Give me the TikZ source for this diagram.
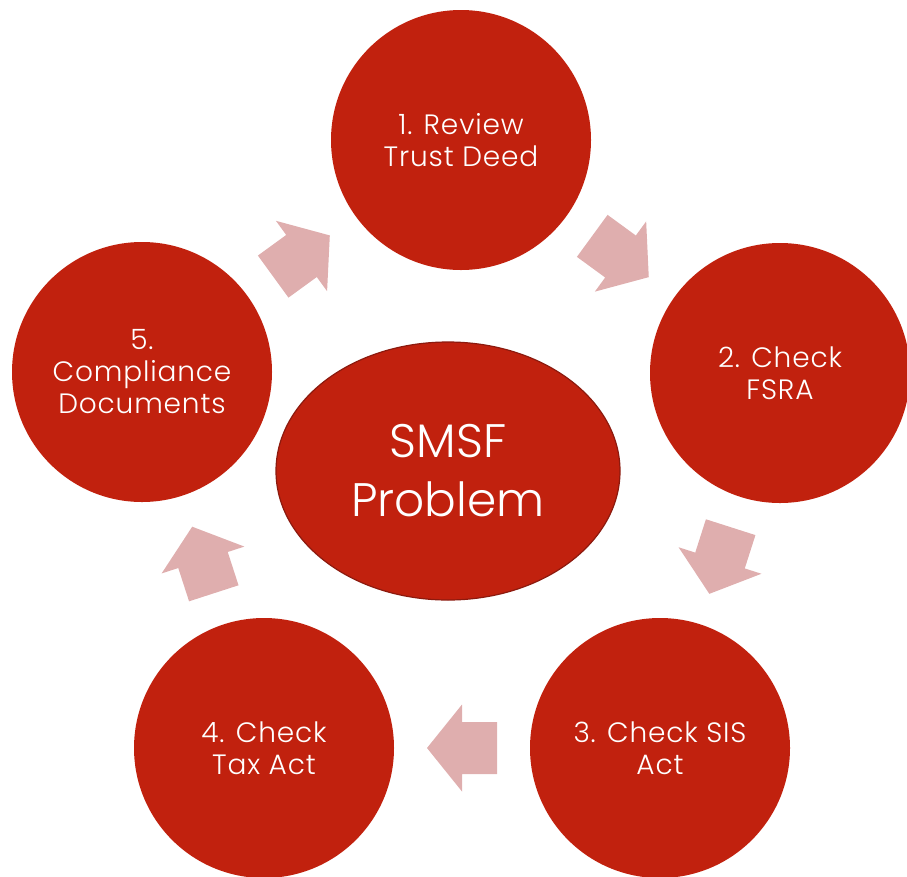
\documentclass[tikz,border=0pt]{standalone}
\usepackage{fontspec}
\setmainfont{Poppins Light}
\newfontfamily\stepfont{Poppins Light}[LetterSpace=3]
\usetikzlibrary{calc,shapes.geometric}
\definecolor{stepred}{RGB}{193,33,14}
\definecolor{rimred}{RGB}{140,26,14}
\definecolor{flowpink}{RGB}{223,174,174}
\begin{document}
\begin{tikzpicture}[x=1pt,y=-1pt,
  stepcircle/.style={circle,fill=stepred,draw=none,minimum size=260pt,inner sep=0pt,
    text=white,align=center,font=\stepfont\fontsize{28}{32}\selectfont},
  core/.style={ellipse,fill=stepred,draw=rimred,line width=1.2pt,inner sep=0pt,
    text=white,align=center,font=\fontsize{47}{59}\selectfont},
  flowarrow/.style={fill=flowpink,draw=none}]
\useasboundingbox (0,0) rectangle (907,876);
\node[core,minimum width=344pt,minimum height=258pt] (core) at (448,471) {SMSF\\Problem};
\node[stepcircle] (s1) at (461,140) {1. Review\\Trust Deed};
\node[stepcircle] (s2) at (780,373) {2. Check\\FSRA};
\node[stepcircle] (s3) at (660,748) {3. Check SIS\\Act};
\node[stepcircle] (s4) at (264,748) {4. Check\\Tax Act};
\node[stepcircle] (s5) at (142,372) {5.\\Compliance\\Documents};
% block arrows halfway between consecutive steps
\foreach \a/\b in {s1/s2,s2/s3,s3/s4,s4/s5,s5/s1}{
  \path let \p1=($(\b.center)-(\a.center)$), \n1={atan2(\y1,\x1)} in
    \pgfextra{\xdef\flowangle{\n1}};
  \fill[flowarrow,shift={($(\a.center)!0.5!(\b.center)$)},rotate=\flowangle]
    (-35,-26) -- (0,-26) -- (0,-43.5) -- (35,0) -- (0,43.5) -- (0,26) -- (-35,26) -- cycle;
}
\end{tikzpicture}
\end{document}
